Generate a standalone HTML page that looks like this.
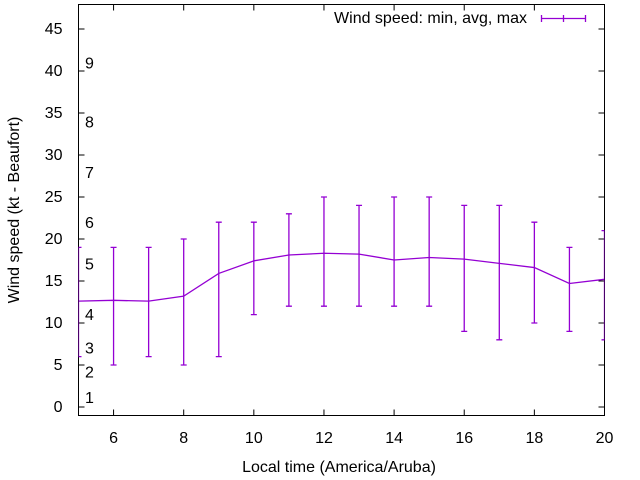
<!DOCTYPE html>
<html><head><meta charset="utf-8"><style>
body{margin:0;background:#fff}
svg{display:block;font-family:"Liberation Sans",sans-serif}
</style></head><body>
<svg id="c" width="640" height="480"></svg>
<script>
const hours=[5,6,7,8,9,10,11,12,13,14,15,16,17,18,19,20];
const avgVals=[12.6,12.7,12.6,13.2,15.9,17.4,18.1,18.3,18.2,17.5,17.8,17.6,17.1,16.6,14.7,15.2];
const minVals=[6,5,6,5,6,11,12,12,12,12,12,9,8,10,9,8];
const maxVals=[19,19,19,20,22,22,23,25,24,25,25,24,24,22,19,21];
const yTicks=[0,5,10,15,20,25,30,35,40,45];
const xTicks=[6,8,10,12,14,16,18,20];
const bftLabels=["1","2","3","4","5","6","7","8","9"];
const bftVals=[1.2,4.2,7.1,11.1,17.1,22,28,34,41];
const L=78.5,R=604.5,T=4.5,B=415.5;
const X=h=>L+(h-5)*(R-L)/15;
const Y=v=>407-v*8.4;
const svg=document.getElementById('c');const NS='http://www.w3.org/2000/svg';
function mk(t,a,p){const e=document.createElementNS(NS,t);for(const k in a)e.setAttribute(k,a[k]);(p||svg).appendChild(e);return e;}
const frame=mk('rect',{x:L,y:T,width:R-L,height:B-T,fill:'none',stroke:'#000','stroke-width':1});


yTicks.forEach(v=>{const y=Y(v);
 const t=mk('path',{d:`M${L} ${y}h6M${R} ${y}h-6`,stroke:'#000'});
 
 
 const l=mk('text',{x:L-16,y:y+5,'text-anchor':'end','font-size':16,fill:'#000'});l.textContent=v;
 
 
});
xTicks.forEach(h=>{const x=X(h);
 const t=mk('path',{d:`M${x} ${B}v-6M${x} ${T}v6`,stroke:'#000'});
 
 
 const l=mk('text',{x:x,y:443,'text-anchor':'middle','font-size':16,fill:'#000'});l.textContent=h;
 
 
});
bftLabels.forEach((s,i)=>{const l=mk('text',{x:85,y:Y(bftVals[i])+6,'font-size':16,fill:'#000'});l.textContent=s;
 
 
});
const col='#9400d3';
const g=mk('g',{});


const cp=mk('clipPath',{id:'cl'});mk('rect',{x:L,y:T,width:R-L,height:B-T},cp);
g.setAttribute('clip-path','url(#cl)');
hours.forEach((h,i)=>{const x=X(h),y1=Y(minVals[i]),y2=Y(maxVals[i]);
 const e=mk('path',{d:`M${x} ${y1}V${y2}M${x-3} ${y1}h6M${x-3} ${y2}h6`,stroke:col,'stroke-width':1.3,fill:'none'},g);
 
 
});
const ln=mk('polyline',{points:hours.map((h,i)=>X(h)+','+Y(avgVals[i])).join(' '),fill:'none',stroke:col,'stroke-width':1.3},g);


const lt=mk('text',{x:527,y:23,'text-anchor':'end','font-size':16,fill:'#000'});lt.textContent='Wind speed: min, avg, max';


const ls=mk('path',{d:'M541.5 18.5h44M541.5 15v7M585.5 15v7M563.5 15v7',stroke:col,'stroke-width':1.3});


const xt=mk('text',{x:339,y:472,'text-anchor':'middle','font-size':16,fill:'#000'});xt.textContent='Local time (America/Aruba)';


const yt=mk('text',{x:0,y:0,'text-anchor':'middle','font-size':16,fill:'#000',transform:'translate(19,210) rotate(-90)'});yt.textContent='Wind speed (kt - Beaufort)';


</script>
</body></html>
